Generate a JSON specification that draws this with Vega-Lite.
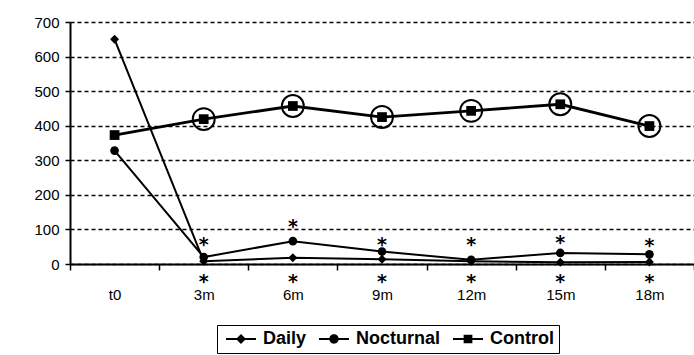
{
  "$schema": "https://vega.github.io/schema/vega-lite/v6.json",
  "autosize": "none",
  "width": 624,
  "height": 242,
  "padding": {"left": 70, "top": 22, "right": 0, "bottom": 91},
  "background": "white",
  "config": {
    "view": {"stroke": null},
    "font": "Liberation Sans"
  },
  "datasets": {
    "series": [
      {"time": "t0", "series": "Daily", "value": 650},
      {"time": "3m", "series": "Daily", "value": 8},
      {"time": "6m", "series": "Daily", "value": 18},
      {"time": "9m", "series": "Daily", "value": 14},
      {"time": "12m", "series": "Daily", "value": 8},
      {"time": "15m", "series": "Daily", "value": 5},
      {"time": "18m", "series": "Daily", "value": 6},
      {"time": "t0", "series": "Nocturnal", "value": 328},
      {"time": "3m", "series": "Nocturnal", "value": 20},
      {"time": "6m", "series": "Nocturnal", "value": 66},
      {"time": "9m", "series": "Nocturnal", "value": 36},
      {"time": "12m", "series": "Nocturnal", "value": 12},
      {"time": "15m", "series": "Nocturnal", "value": 32},
      {"time": "18m", "series": "Nocturnal", "value": 28},
      {"time": "t0", "series": "Control", "value": 373},
      {"time": "3m", "series": "Control", "value": 419},
      {"time": "6m", "series": "Control", "value": 457},
      {"time": "9m", "series": "Control", "value": 425},
      {"time": "12m", "series": "Control", "value": 443},
      {"time": "15m", "series": "Control", "value": 462},
      {"time": "18m", "series": "Control", "value": 399}
    ],
    "stars": [
      {"time": "3m", "value": 69}, {"time": "3m", "value": -37},
      {"time": "6m", "value": 121}, {"time": "6m", "value": -37},
      {"time": "9m", "value": 69}, {"time": "9m", "value": -37},
      {"time": "12m", "value": 69}, {"time": "12m", "value": -37},
      {"time": "15m", "value": 74}, {"time": "15m", "value": -37},
      {"time": "18m", "value": 67}, {"time": "18m", "value": -37}
    ]
  },
  "encoding": {
    "x": {
      "field": "time",
      "type": "nominal",
      "sort": ["t0", "3m", "6m", "9m", "12m", "15m", "18m"],
      "scale": {"type": "band", "paddingInner": 0, "paddingOuter": 0},
      "axis": {
        "title": null,
        "labelAngle": 0,
        "labelFontSize": 15,
        "labelColor": "black",
        "labelPadding": 17,
        "labelOverlap": false,
        "domainColor": "black",
        "domainWidth": 2,
        "tickColor": "black",
        "tickWidth": 1.5,
        "tickSize": 6,
        "tickBand": "extent",
        "grid": false
      }
    },
    "y": {
      "field": "value",
      "type": "quantitative",
      "scale": {"domain": [0, 700], "nice": false, "zero": false},
      "axis": {
        "title": null,
        "values": [0, 100, 200, 300, 400, 500, 600, 700],
        "labelOverlap": false,
        "labelFontSize": 15,
        "labelColor": "black",
        "labelPadding": 6,
        "domainColor": "black",
        "domainWidth": 2,
        "tickColor": "black",
        "tickWidth": 1.5,
        "tickSize": 5,
        "grid": true,
        "gridColor": "black",
        "gridWidth": 1.5,
        "gridDash": [4, 3]
      }
    }
  },
  "layer": [
    {
      "data": {"name": "series"},
      "mark": {"type": "line", "color": "black", "strokeWidth": 2},
      "transform": [{"filter": "datum.series !== 'Control'"}],
      "encoding": {
        "detail": {"field": "series"}
      }
    },
    {
      "data": {"name": "series"},
      "mark": {"type": "line", "color": "black", "strokeWidth": 2.8},
      "transform": [{"filter": "datum.series === 'Control'"}],
      "encoding": {}
    },
    {
      "data": {"name": "series"},
      "mark": {"type": "point", "shape": "diamond", "filled": true, "color": "black", "opacity": 1, "size": 80},
      "transform": [{"filter": "datum.series === 'Daily'"}],
      "encoding": {}
    },
    {
      "data": {"name": "series"},
      "mark": {"type": "point", "shape": "circle", "filled": true, "color": "black", "opacity": 1, "size": 75},
      "transform": [{"filter": "datum.series === 'Nocturnal'"}],
      "encoding": {}
    },
    {
      "data": {"name": "series"},
      "mark": {"type": "point", "shape": "square", "filled": true, "color": "black", "opacity": 1, "size": 95},
      "transform": [{"filter": "datum.series === 'Control'"}],
      "encoding": {}
    },
    {
      "data": {"name": "series"},
      "mark": {"type": "point", "filled": false, "color": "black", "strokeWidth": 2, "size": 480, "opacity": 1},
      "transform": [{"filter": "datum.series === 'Control' && datum.time !== 't0'"}],
      "encoding": {}
    },
    {
      "data": {"name": "stars"},
      "mark": {"type": "text", "text": "*", "fontSize": 19, "fontWeight": "bold", "font": "DejaVu Sans", "baseline": "middle", "dy": 5, "color": "black"},
      "encoding": {}
    },
    {
      "data": {"name": "series"},
      "mark": {"type": "point", "filled": true, "color": "black", "opacity": 0},
      "encoding": {
        "shape": {
          "field": "series",
          "type": "nominal",
          "scale": {
            "domain": ["Daily", "Nocturnal", "Control"],
            "range": [
              "M-2.4,-0.17L2.4,-0.17L2.4,0.17L-2.4,0.17ZM0,-0.8L0.8,0L0,0.8L-0.8,0Z",
              "M-2.4,-0.17L2.4,-0.17L2.4,0.17L-2.4,0.17ZM-0.75,0A0.75,0.75 0 1,1 0.75,0A0.75,0.75 0 1,1 -0.75,0Z",
              "M-2.4,-0.17L2.4,-0.17L2.4,0.17L-2.4,0.17ZM-0.7,-0.7L0.7,-0.7L0.7,0.7L-0.7,0.7Z"
            ]
          },
          "legend": {
            "title": null,
            "orient": "none",
            "legendX": 147,
            "legendY": 303,
            "direction": "horizontal",
            "columns": 3,
            "columnPadding": 8,
            "padding": 5,
            "strokeColor": "black",
            "symbolSize": 156,
            "symbolOffset": 10,
            "symbolOpacity": 1,
            "symbolFillColor": "black",
            "symbolStrokeColor": "black",
            "labelFont": "Liberation Sans",
            "labelFontSize": 18,
            "labelFontWeight": "bold",
            "labelColor": "black",
            "labelOffset": 13
          }
        }
      }
    }
  ]
}
